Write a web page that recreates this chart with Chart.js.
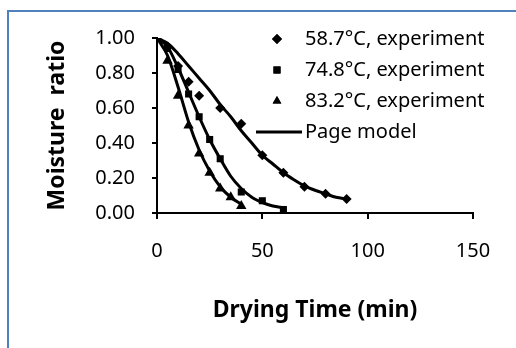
<!DOCTYPE html>
<html>
<head>
<meta charset="utf-8">
<script src="https://cdn.jsdelivr.net/npm/chart.js@4"></script>
<style>
  html, body { margin: 0; padding: 0; background: #fff; }
  #wrap { position: relative; width: 516px; height: 348px; overflow: hidden; }
  #frame { position: absolute; left: 7px; top: 10px; width: 600px; height: 400px;
           border-left: 2px solid #4F81BD; border-top: 2px solid #4F81BD; }
  canvas { position: absolute; left: 0; top: 0; }
</style>
</head>
<body>
<div id="wrap">
  <div id="frame"></div>
  <canvas id="chart" width="516" height="348"></canvas>
</div>
<script>
/* ---------- DATA ---------- */
const legendLabels = ['58.7°C, experiment', '74.8°C, experiment', '83.2°C, experiment', 'Page model'];

// experiment points [time (min), moisture ratio]
const exp587 = [[0, 1.00], [5, 0.95], [10, 0.84], [15, 0.75], [20, 0.67], [30, 0.60], [40, 0.51],
                [50, 0.33], [60, 0.23], [70, 0.15], [80, 0.11], [90, 0.08]];
const exp748 = [[0, 1.00], [5, 0.94], [10, 0.82], [15, 0.68], [20, 0.55], [25, 0.42], [30, 0.31],
                [40, 0.12], [50, 0.07], [60, 0.02]];
const exp832 = [[0, 1.00], [5, 0.87], [10, 0.67], [15, 0.50], [20, 0.34], [25, 0.23], [30, 0.14],
                [35, 0.09], [40, 0.04]];

// Page model curves
const model587 = [[0, 1.00], [5, 0.97], [10, 0.91], [15, 0.84], [20, 0.77], [25, 0.70], [30, 0.62],
                  [35, 0.55], [40, 0.47], [45, 0.40], [50, 0.33], [55, 0.28], [60, 0.23], [65, 0.19],
                  [70, 0.155], [75, 0.13], [80, 0.11], [85, 0.09], [90, 0.08]];
const model748 = [[0, 1.00], [5, 0.95], [10, 0.83], [15, 0.69], [20, 0.55], [25, 0.42], [30, 0.31],
                  [35, 0.21], [40, 0.14], [45, 0.09], [50, 0.06], [55, 0.04], [60, 0.03]];
const model832 = [[0, 1.00], [5, 0.90], [10, 0.72], [15, 0.52], [20, 0.36], [25, 0.24], [30, 0.15],
                  [35, 0.09], [40, 0.05]];

const xTicks = [0, 50, 100, 150];
const yTicks = [0, 0.2, 0.4, 0.6, 0.8, 1.0];

const FONT = '"Noto Sans", "Open Sans", sans-serif';
const toXY = arr => arr.map(p => ({ x: p[0], y: p[1] }));

function pointSet(label, data, style, radius) {
  return {
    label, data: toXY(data), showLine: false,
    pointStyle: style, pointRadius: radius,
    backgroundColor: '#000', borderColor: '#000', borderWidth: 0
  };
}
function modelSet(label, data) {
  return {
    label, data: toXY(data), showLine: true, pointRadius: 0,
    borderColor: '#000', borderWidth: 3, cubicInterpolationMode: 'monotone', fill: false
  };
}

/* ---------- LEGEND (drawn inside plot, like the original) ---------- */
const legendPlugin = {
  id: 'insideLegend',
  afterDraw(chart) {
    const ctx = chart.ctx;
    const styles = ['rectRot', 'rect', 'triangle', 'line'];
    const rows = [39, 70, 101, 132];
    ctx.save();
    ctx.font = '20px ' + FONT;
    ctx.fillStyle = '#000';
    ctx.textBaseline = 'middle';
    legendLabels.forEach((txt, i) => {
      const y = rows[i];
      if (styles[i] === 'line') {
        ctx.strokeStyle = '#000';
        ctx.lineWidth = 3;
        ctx.beginPath();
        ctx.moveTo(256, y);
        ctx.lineTo(302, y);
        ctx.stroke();
      } else {
        Chart.helpers.drawPoint(ctx, { pointStyle: styles[i], radius: 5, borderWidth: 0 }, 277, y);
        ctx.fill();
      }
      ctx.fillText(txt, 305, y);
    });
    ctx.restore();
  }
};

new Chart(document.getElementById('chart'), {
  type: 'scatter',
  data: {
    datasets: [
      modelSet('m58.7', model587),
      modelSet('m74.8', model748),
      modelSet('m83.2', model832),
      pointSet(legendLabels[0], exp587, 'rectRot', 5),
      pointSet(legendLabels[1], exp748, 'rect', 5),
      pointSet(legendLabels[2], exp832, 'triangle', 6)
    ]
  },
  options: {
    responsive: false,
    animation: false,
    layout: { padding: { top: 38, right: 43, bottom: 0, left: 0 } },
    plugins: { legend: { display: false }, tooltip: { enabled: false } },
    scales: {
      x: {
        type: 'linear', min: 0, max: 150,
        afterFit: s => { s.height = 135; },
        afterBuildTicks: s => { s.ticks = xTicks.map(v => ({ value: v })); },
        grid: { drawOnChartArea: false, drawTicks: true, tickLength: 6, color: '#000', lineWidth: 2 },
        border: { color: '#000', width: 2 },
        ticks: { color: '#000', font: { family: FONT, size: 20 }, padding: 20, maxRotation: 0 },
        title: { display: true, text: 'Drying Time (min)', color: '#000',
                 font: { family: FONT, size: 23, weight: 'bold' }, padding: { top: 0, bottom: 24 } }
      },
      y: {
        min: 0, max: 1,
        afterFit: s => { s.width = 157; },
        afterBuildTicks: s => { s.ticks = yTicks.map(v => ({ value: v })); },
        grid: { drawOnChartArea: false, drawTicks: true, tickLength: 5, color: '#000', lineWidth: 2 },
        border: { color: '#000', width: 2 },
        ticks: { color: '#000', font: { family: FONT, size: 20 }, padding: 17,
                 callback: v => v.toFixed(2) },
        title: { display: true, text: 'Moisture  ratio', color: '#000',
                 font: { family: FONT, size: 23, weight: 'bold' }, padding: { top: 44, bottom: 0 } }
      }
    }
  },
  plugins: [legendPlugin]
});
</script>
</body>
</html>
